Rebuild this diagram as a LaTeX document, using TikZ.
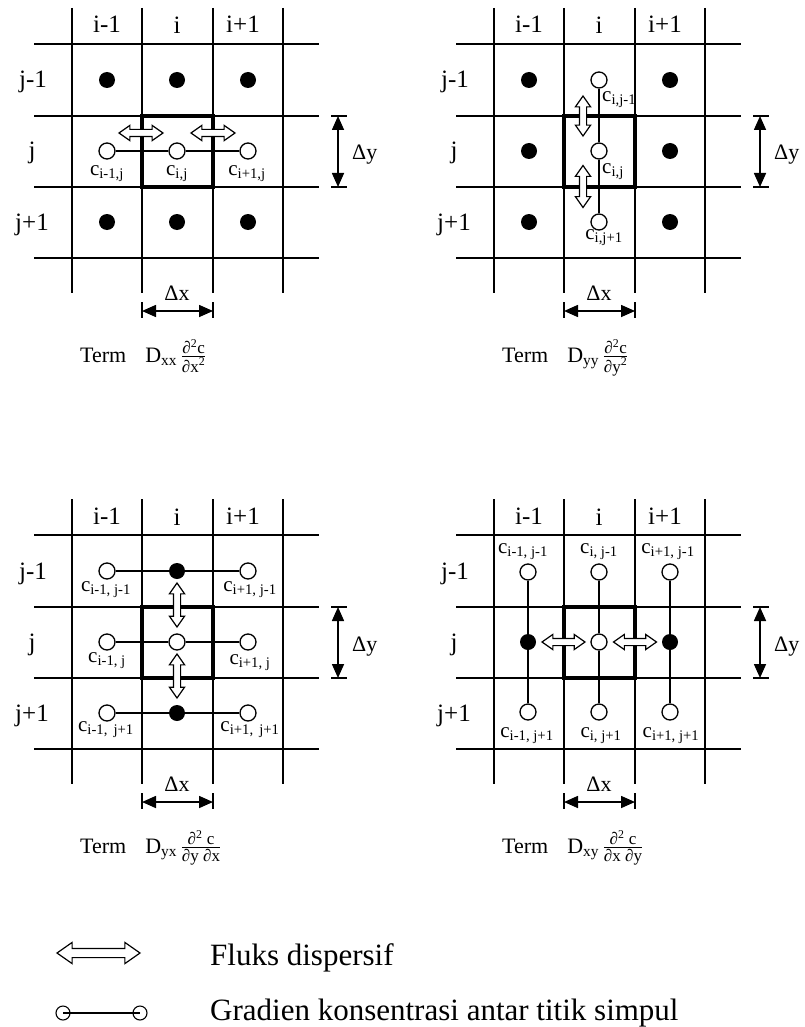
\documentclass[tikz,border=0pt]{standalone}
\usepackage{amsmath}
\usepackage{fontspec}
\setmainfont{Liberation Serif}
\usetikzlibrary{arrows.meta,shapes.arrows}

\newcommand{\cval}[1]{c\textsubscript{#1}}
\newcommand{\fracsize}{\fontsize{17}{19}\selectfont}

\begin{document}
\begin{tikzpicture}[x=1pt, y=-1pt,
    gridline/.style={line width=1.6pt},
    cellbox/.style={line width=3.2pt},
    link/.style={line width=1.6pt},
    fullpt/.style={circle, fill=black, minimum size=16pt, inner sep=0pt},
    openpt/.style={circle, draw, fill=white, line width=1.3pt, minimum size=16pt, inner sep=0pt},
    clbl/.style={font=\fontsize{21}{24}\selectfont, inner sep=0pt},
    idx/.style={font=\fontsize{25}{28}\selectfont, inner sep=0pt, anchor=base},
    dlbl/.style={font=\fontsize{22}{26}\selectfont, inner sep=0pt},
    term/.style={font=\fontsize{22}{26}\selectfont, inner sep=0pt, anchor=base west},
    legend/.style={font=\fontsize{31}{35}\selectfont, inner sep=0pt, anchor=base west},
    flux/.style={double arrow, draw, fill=white, line width=1.2pt, minimum height=44pt,
                 minimum width=14pt, double arrow head extend=4pt,
                 double arrow tip angle=70, inner xsep=0pt, inner ysep=3pt},
    dim/.style={{Triangle[length=14pt,width=12pt]}-{Triangle[length=14pt,width=12pt]},
                line width=1.6pt}
  ]
  \useasboundingbox (0,0) rectangle (804,1027);

  % Grids, indices and cell sizes
  \foreach \px/\py/\k in {0/0/1, 422/0/2, 0/491/3, 422/491/4} {
    \begin{scope}[shift={(\px,\py)}]
      \draw[gridline] (72,8) -- (72,293) (142,8) -- (142,293)
        (213,8) -- (213,293) (283,8) -- (283,293)
        (34,44) -- (319,44) (34,116) -- (319,116)
        (34,187) -- (319,187) (34,258) -- (319,258);
      \draw[cellbox] (142,116) rectangle (213,187);
      \node[idx] (im\k) at (107,33) {i-1};
      \node[idx] (ic\k) at (177,34) {i};
      \node[idx] (ip\k) at (243,33) {i+1};
      \node[idx] (jm\k) at (33,88) {j-1};
      \node[idx] (jc\k) at (32,159) {j};
      \node[idx] (jp\k) at (32,230) {j+1};
      % delta y
      \draw[gridline] (331,116) -- (347,116) (331,187) -- (347,187);
      \coordinate (dyt\k) at (338,116);
      \coordinate (dyb\k) at (338,187);
      \draw[dim] (dyt\k) -- (dyb\k);
      \node[dlbl, anchor=base west] (dy\k) at (352,160) {Δy};
      % delta x
      \draw[gridline] (142,302) -- (142,318) (213,302) -- (213,318);
      \coordinate (dxl\k) at (142,311);
      \coordinate (dxr\k) at (213,311);
      \draw[dim] (dxl\k) -- (dxr\k);
      \node[dlbl, anchor=base] (dx\k) at (177,300) {Δx};
    \end{scope}
  }

  % Term D_xx
  \node[fullpt] (p1a) at (107,80) {};
  \node[fullpt] (p1b) at (177,80) {};
  \node[fullpt] (p1c) at (248,80) {};
  \node[fullpt] (p1d) at (107,222) {};
  \node[fullpt] (p1e) at (177,222) {};
  \node[fullpt] (p1f) at (248,222) {};
  \node[openpt] (c1w) at (107,151) {};
  \node[openpt] (c1c) at (177,151) {};
  \node[openpt] (c1e) at (248,151) {};
  \draw[link] (c1w) -- (c1c) -- (c1e);
  \node[clbl] (l1w) at (107,174) {\cval{i-1,j}};
  \node[clbl] (l1c) at (177,174) {\cval{i,j}};
  \node[clbl] (l1e) at (247,174) {\cval{i+1,j}};
  \node[flux] (f1w) at (141,133) {};
  \node[flux] (f1e) at (213,133) {};
  \node[term] (t1) at (80,362)
    {Term\hspace{19pt}D\textsubscript{xx}\,$\frac{\text{\fracsize ∂\textsuperscript{2}c}}{\text{\fracsize ∂x\textsuperscript{2}}}$};

  % Term D_yy
  \node[fullpt] (p2a) at (529,80) {};
  \node[fullpt] (p2b) at (670,80) {};
  \node[fullpt] (p2c) at (529,151) {};
  \node[fullpt] (p2d) at (670,151) {};
  \node[fullpt] (p2e) at (529,222) {};
  \node[fullpt] (p2f) at (670,222) {};
  \node[openpt] (c2n) at (599,80) {};
  \node[openpt] (c2c) at (599,151) {};
  \node[openpt] (c2s) at (599,222) {};
  \draw[link] (c2n) -- (c2c) -- (c2s);
  \node[clbl, anchor=west] (l2n) at (602,100) {\cval{i,j-1}};
  \node[clbl, anchor=west] (l2c) at (602,172) {\cval{i,j}};
  \node[clbl] (l2s) at (604,238) {\cval{i,j+1}};
  \node[flux, rotate=90, minimum height=40pt] (f2n) at (583,116) {};
  \node[flux, rotate=90, minimum height=42pt] (f2s) at (583,186.5) {};
  \node[term] (t2) at (502,362)
    {Term\hspace{19pt}D\textsubscript{yy}\,$\frac{\text{\fracsize ∂\textsuperscript{2}c}}{\text{\fracsize ∂y\textsuperscript{2}}}$};

  % Term D_yx
  \node[openpt] (c3nw) at (107,571) {};
  \node[fullpt] (c3n) at (177,571) {};
  \node[openpt] (c3ne) at (248,571) {};
  \node[openpt] (c3w) at (107,642) {};
  \node[openpt] (c3c) at (177,642) {};
  \node[openpt] (c3e) at (248,642) {};
  \node[openpt] (c3sw) at (107,713) {};
  \node[fullpt] (c3s) at (177,713) {};
  \node[openpt] (c3se) at (248,713) {};
  \draw[link] (c3nw) -- (c3n) -- (c3ne);
  \draw[link] (c3w) -- (c3c) -- (c3e);
  \draw[link] (c3sw) -- (c3s) -- (c3se);
  \node[clbl] (l3nw) at (106,590) {\cval{i-1, j-1}};
  \node[clbl] (l3ne) at (250,590) {\cval{i+1, j-1}};
  \node[clbl] (l3w) at (107,661) {\cval{i-1, j}};
  \node[clbl] (l3e) at (250,663) {\cval{i+1, j}};
  \node[clbl] (l3sw) at (106,730) {\cval{i-1,\, j+1}};
  \node[clbl] (l3se) at (250,730) {\cval{i+1,\, j+1}};
  \node[flux, rotate=90] (f3n) at (177,605) {};
  \node[flux, rotate=90] (f3s) at (177,676) {};
  \node[term] (t3) at (80,853)
    {Term\hspace{19pt}D\textsubscript{yx}\,$\frac{\text{\fracsize ∂\textsuperscript{2} c}}{\text{\fracsize ∂y ∂x}}$};

  % Term D_xy
  \node[openpt] (c4nw) at (528,572) {};
  \node[openpt] (c4n) at (599,572) {};
  \node[openpt] (c4ne) at (670,572) {};
  \node[fullpt] (c4w) at (528,642) {};
  \node[openpt] (c4c) at (599,642) {};
  \node[fullpt] (c4e) at (670,642) {};
  \node[openpt] (c4sw) at (528,712) {};
  \node[openpt] (c4s) at (599,712) {};
  \node[openpt] (c4se) at (670,712) {};
  \draw[link] (c4nw) -- (c4w) -- (c4sw);
  \draw[link] (c4n) -- (c4c) -- (c4s);
  \draw[link] (c4ne) -- (c4e) -- (c4se);
  \node[clbl] (l4nw) at (523,552) {\cval{i-1, j-1}};
  \node[clbl] (l4n) at (599,552) {\cval{i, j-1}};
  \node[clbl] (l4ne) at (668,552) {\cval{i+1, j-1}};
  \node[clbl] (l4sw) at (527,736) {\cval{i-1, j+1}};
  \node[clbl] (l4s) at (601,736) {\cval{i, j+1}};
  \node[clbl] (l4se) at (671,736) {\cval{i+1, j+1}};
  \node[flux, minimum height=43pt] (f4w) at (563.5,642) {};
  \node[flux, minimum height=43pt] (f4e) at (635,642) {};
  \node[term] (t4) at (502,853)
    {Term\hspace{19pt}D\textsubscript{xy}\,$\frac{\text{\fracsize ∂\textsuperscript{2} c}}{\text{\fracsize ∂x ∂y}}$};

  % Legend
  \node[flux, minimum height=83pt, minimum width=20pt, double arrow head extend=6pt,
        inner ysep=4pt] (lgflux) at (98.5,953) {};
  \node[legend] (lgfluxtxt) at (210,965) {Fluks dispersif};
  \node[circle, draw, line width=1.1pt, minimum size=14pt, inner sep=0pt] (lga) at (63,1013) {};
  \node[circle, draw, line width=1.1pt, minimum size=14pt, inner sep=0pt] (lgb) at (140,1013) {};
  \draw[line width=1.1pt] (lga.center) -- (lgb.center);
  \node[legend] (lggradtxt) at (210,1020) {Gradien konsentrasi antar titik simpul};
\end{tikzpicture}
\end{document}
